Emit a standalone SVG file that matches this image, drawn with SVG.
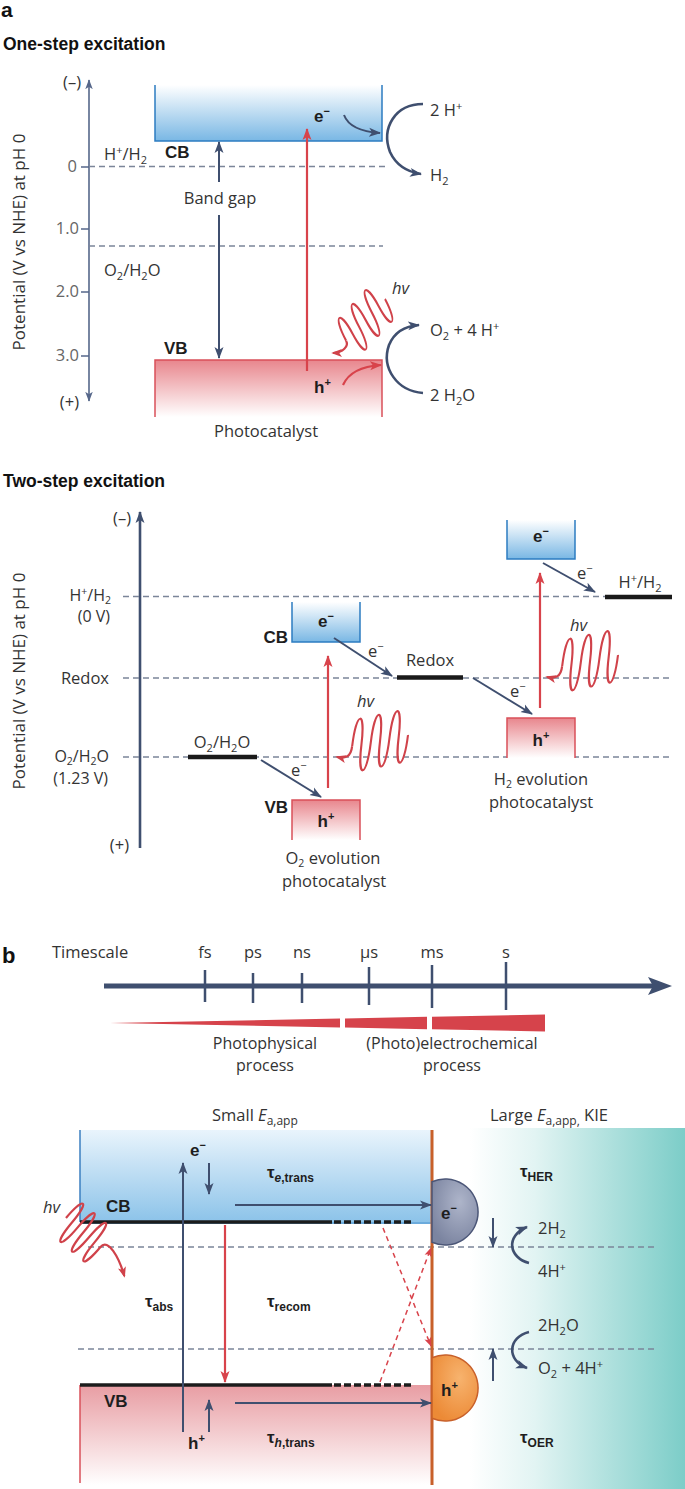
<svg xmlns="http://www.w3.org/2000/svg" width="685" height="1489" viewBox="0 0 685 1489">
<defs>
<style>
text{font-family:"Open Sans","Liberation Sans",sans-serif;font-size:16.5px;fill:#333}
text.bd{font-family:"Liberation Sans",Arial,sans-serif;font-weight:bold;font-size:17px;fill:#1e1e1e}
text.ttl{font-family:"Liberation Sans",Arial,sans-serif;font-weight:bold;font-size:17.5px;fill:#111}
text.tk{fill:#666}
text.sm{font-size:16px}
.it{font-style:italic}
.m{text-anchor:middle}
.e{text-anchor:end}
.dash{stroke:#7b8599;stroke-width:1.3;stroke-dasharray:6 4;fill:none}
.dk{stroke:#3f4f6f;stroke-width:2;fill:none}
.dk3{stroke:#3f4f6f;stroke-width:2.6;fill:none}
.rd{stroke:#d8434b;stroke-width:2.2;fill:none}
.wave{stroke:#d0424a;stroke-width:2.2;fill:none;stroke-linejoin:round}
.bar{stroke:#1a1a1a;stroke-width:4.5}
.cbs{stroke:#2d7cc1;stroke-width:1.5;fill:none}
.vbs{stroke:#d9505a;stroke-width:1.5;fill:none}
</style>
<linearGradient id="gCB" x1="0" y1="0" x2="0" y2="1"><stop offset="0" stop-color="#ffffff"/><stop offset="1" stop-color="#79b7e4"/></linearGradient>
<linearGradient id="gVB" x1="0" y1="0" x2="0" y2="1"><stop offset="0" stop-color="#e8868d"/><stop offset="1" stop-color="#ffffff"/></linearGradient>
<linearGradient id="gCB2" x1="0" y1="0" x2="0" y2="1"><stop offset="0" stop-color="#e9f4fc"/><stop offset="1" stop-color="#8cc3e9"/></linearGradient>
<linearGradient id="gVB2" x1="0" y1="0" x2="0" y2="1"><stop offset="0" stop-color="#e89da3"/><stop offset="1" stop-color="#ffffff"/></linearGradient>
<linearGradient id="gTeal" gradientUnits="userSpaceOnUse" x1="470" y1="0" x2="685" y2="0"><stop offset="0" stop-color="#ffffff"/><stop offset="0.3" stop-color="#e2f4f3"/><stop offset="1" stop-color="#7ccdc8"/></linearGradient>
<radialGradient id="gE" cx="0.6" cy="0.35" r="0.7"><stop offset="0" stop-color="#aeb5ca"/><stop offset="1" stop-color="#7b84a0"/></radialGradient>
<radialGradient id="gH" cx="0.6" cy="0.35" r="0.7"><stop offset="0" stop-color="#f7b36e"/><stop offset="1" stop-color="#ec8a36"/></radialGradient>
<marker id="mD" viewBox="0 0 12 10" refX="11" refY="5" markerWidth="12" markerHeight="10" markerUnits="userSpaceOnUse" orient="auto-start-reverse"><path d="M0,0.5L12,5L0,9.5L3,5z" fill="#3f4f6f"/></marker>
<marker id="mA" viewBox="0 0 12 10" refX="11" refY="5" markerWidth="10" markerHeight="9" markerUnits="userSpaceOnUse" orient="auto-start-reverse"><path d="M0,0.5L12,5L0,9.5L3,5z" fill="#56678a"/></marker>
<marker id="mR" viewBox="0 0 12 10" refX="11" refY="5" markerWidth="12" markerHeight="10" markerUnits="userSpaceOnUse" orient="auto"><path d="M0,0.5L12,5L0,9.5L3,5z" fill="#d8434b"/></marker>
<marker id="mW" viewBox="0 0 12 10" refX="10" refY="5" markerWidth="11" markerHeight="9" markerUnits="userSpaceOnUse" orient="auto"><path d="M0,0.5L12,5L0,9.5L3,5z" fill="#d0424a"/></marker>
<marker id="mRs" viewBox="0 0 10 8" refX="9.5" refY="4" markerWidth="9" markerHeight="8" markerUnits="userSpaceOnUse" orient="auto"><path d="M0,0L10,4L0,8L2.5,4z" fill="#d8434b"/></marker>
<marker id="mT" viewBox="0 0 24 18" refX="7" refY="9" markerWidth="24" markerHeight="18" markerUnits="userSpaceOnUse" orient="auto"><path d="M0,0L24,9L0,18L5,9z" fill="#3f4f6f"/></marker>
<path id="sq" d="M0,0C0,-36 9.5,-36 9.5,0C9.5,36 19,36 19,0C19,-36 28.5,-36 28.5,0C28.5,36 38,36 38,0C38,-36 47.5,-36 47.5,0C47.5,36 57,36 57,0"/>
</defs>
<rect width="685" height="1489" fill="#ffffff"/>

<!-- ===== Part a: one-step ===== -->
<g id="title-a">
<text class="ttl" x="1" y="17" style="font-size:21px">a</text>
<text class="ttl" x="3" y="50">One-step excitation</text>
</g>
<g id="axis-one-step">
<line x1="89" y1="80" x2="89" y2="401" stroke="#56678a" stroke-width="1.6" marker-start="url(#mA)" marker-end="url(#mA)"/>
<path d="M81,167H89M81,229H89M81,292H89M81,356H89" stroke="#56678a" stroke-width="1.3"/>
<text class="e" x="81" y="88">(–)</text>
<text class="e" x="79" y="408">(+)</text>
<text class="tk e" x="77" y="172">0</text>
<text class="tk e" x="79" y="234">1.0</text>
<text class="tk e" x="79" y="297">2.0</text>
<text class="tk e" x="79" y="361">3.0</text>
<text class="m" transform="translate(25,242) rotate(-90)" style="font-size:17px">Potential (V vs NHE) at pH 0</text>
</g>
<g id="levels-one-step">
<line class="dash" x1="89" y1="166.5" x2="385" y2="166.5"/>
<line class="dash" x1="89" y1="246" x2="383" y2="246"/>
<text x="104" y="160">H<tspan font-size="11" dy="-6">+</tspan><tspan dy="6">/H</tspan><tspan font-size="11" dy="4">2</tspan></text>
<text x="104" y="276">O<tspan font-size="11" dy="4">2</tspan><tspan dy="-4">/H</tspan><tspan font-size="11" dy="4">2</tspan><tspan dy="-4">O</tspan></text>
</g>
<g id="cb-one-step">
<rect x="155" y="85" width="227" height="56" fill="url(#gCB)"/>
<path class="cbs" d="M155,85V141H382V85"/>
<text class="bd" x="165" y="158">CB</text>
<text class="bd" x="314" y="122">e<tspan font-size="11" dy="-7">−</tspan></text>
</g>
<g id="vb-one-step">
<rect x="155" y="360" width="227" height="57" fill="url(#gVB)"/>
<path class="vbs" d="M155,417V360H382V417"/>
<text class="bd" x="164" y="354">VB</text>
<text class="bd" x="314" y="393">h<tspan font-size="11" dy="-7">+</tspan></text>
<text class="m" x="266" y="437">Photocatalyst</text>
</g>
<g id="bandgap-label">
<text class="m" x="220" y="204">Band gap</text>
</g>
<g id="reactions-one-step">
<text x="430" y="116">2 H<tspan font-size="11" dy="-6">+</tspan></text>
<text x="430" y="181">H<tspan font-size="11" dy="4">2</tspan></text>
<text x="430" y="336">O<tspan font-size="11" dy="4">2</tspan><tspan dy="-4"> + 4 H</tspan><tspan font-size="11" dy="-6">+</tspan></text>
<text x="430" y="401">2 H<tspan font-size="11" dy="4">2</tspan><tspan dy="-4">O</tspan></text>
<text class="it" x="392" y="294">hv</text>
</g>

<!-- ===== Part a: two-step ===== -->
<g id="title-two-step">
<text class="ttl" x="3" y="487">Two-step excitation</text>
</g>
<g id="axis-two-step">
<line x1="140" y1="848" x2="140" y2="512" stroke="#3f4f6f" stroke-width="2.6" marker-end="url(#mD)"/>
<text class="e" x="131" y="524">(–)</text>
<text class="e" x="129" y="851">(+)</text>
<text class="m" transform="translate(25,681) rotate(-90)" style="font-size:17px">Potential (V vs NHE) at pH 0</text>
</g>
<g id="levels-two-step">
<line class="dash" x1="123" y1="596.5" x2="672" y2="596.5"/>
<line class="dash" x1="123" y1="678" x2="672" y2="678"/>
<line class="dash" x1="123" y1="757" x2="672" y2="757"/>
<text class="e sm" x="111" y="601">H<tspan font-size="10.5" dy="-6">+</tspan><tspan dy="6">/H</tspan><tspan font-size="10.5" dy="3">2</tspan></text>
<text class="e sm" x="110" y="622">(0 V)</text>
<text class="e" x="109" y="684">Redox</text>
<text class="e sm" x="109" y="762">O<tspan font-size="10.5" dy="3">2</tspan><tspan dy="-3">/H</tspan><tspan font-size="10.5" dy="3">2</tspan><tspan dy="-3">O</tspan></text>
<text class="e sm" x="108" y="784">(1.23 V)</text>
</g>
<g id="bar-o2">
<line class="bar" x1="188" y1="757" x2="257" y2="757"/>
<text class="m" x="222" y="748">O<tspan font-size="11" dy="4">2</tspan><tspan dy="-4">/H</tspan><tspan font-size="11" dy="4">2</tspan><tspan dy="-4">O</tspan></text>
</g>
<g id="bar-redox">
<line class="bar" x1="397" y1="677.5" x2="463" y2="677.5"/>
<text class="m" x="430" y="666">Redox</text>
</g>
<g id="bar-h2">
<line class="bar" x1="605" y1="597" x2="672" y2="597"/>
<text class="m" x="640" y="588">H<tspan font-size="11" dy="-6">+</tspan><tspan dy="6">/H</tspan><tspan font-size="11" dy="4">2</tspan></text>
</g>
<g id="o2-cb">
<rect x="292" y="602" width="68" height="40" fill="url(#gCB)"/>
<path class="cbs" d="M292,602V642H360V602"/>
<text class="bd e" x="288" y="643">CB</text>
<text class="bd m" x="326" y="627">e<tspan font-size="11" dy="-7">−</tspan></text>
</g>
<g id="o2-vb">
<rect x="292" y="800" width="68" height="40" fill="url(#gVB)"/>
<path class="vbs" d="M292,840V800H360V840"/>
<text class="bd e" x="288" y="813">VB</text>
<text class="bd m" x="326" y="827">h<tspan font-size="11" dy="-7">+</tspan></text>
<text class="m" x="333" y="864">O<tspan font-size="10.5" dy="3">2</tspan><tspan dy="-3"> evolution</tspan></text>
<text class="m" x="334" y="887">photocatalyst</text>
</g>
<g id="h2-cb">
<rect x="507" y="520" width="68" height="39" fill="url(#gCB)"/>
<path class="cbs" d="M507,520V559H575V520"/>
<text class="bd m" x="541" y="542">e<tspan font-size="11" dy="-7">−</tspan></text>
</g>
<g id="h2-vb">
<rect x="507" y="718" width="68" height="40" fill="url(#gVB)"/>
<path class="vbs" d="M507,758V718H575V758"/>
<text class="bd m" x="541" y="746">h<tspan font-size="11" dy="-7">+</tspan></text>
<text class="m" x="541" y="785">H<tspan font-size="10.5" dy="3">2</tspan><tspan dy="-3"> evolution</tspan></text>
<text class="m" x="541" y="808">photocatalyst</text>
</g>
<g id="labels-two-step">
<text x="291" y="776">e<tspan font-size="11" dy="-7">−</tspan></text>
<text x="368" y="657">e<tspan font-size="11" dy="-7">−</tspan></text>
<text x="510" y="697">e<tspan font-size="11" dy="-7">−</tspan></text>
<text x="577" y="579">e<tspan font-size="11" dy="-7">−</tspan></text>
<text class="it" x="357" y="707">hv</text>
<text class="it" x="570" y="631">hv</text>
</g>

<!-- ===== Part b ===== -->
<g id="timescale">
<text class="ttl" x="2" y="963" style="font-size:22px">b</text>
<text x="52" y="958">Timescale</text>
<text class="m" x="205" y="958">fs</text>
<text class="m" x="253" y="958">ps</text>
<text class="m" x="302" y="958">ns</text>
<text class="m" x="369" y="958">μs</text>
<text class="m" x="432" y="958">ms</text>
<text class="m" x="506" y="958">s</text>
<line x1="104" y1="986" x2="655" y2="986" stroke="#3f4f6f" stroke-width="5" marker-end="url(#mT)"/>
<path d="M205,970V1002M253,973V1003M302,973V1003M369,967V1005M432,965V1008M506,962V1010" stroke="#3f4f6f" stroke-width="2.5"/>
<polygon points="110,1023 340,1018.5 340,1027.5" fill="#d6434b"/>
<polygon points="345,1018.4 427,1016.8 427,1029.2 345,1027.6" fill="#d6434b"/>
<polygon points="432,1016.7 545,1014.5 545,1031.5 432,1029.3" fill="#d6434b"/>
<text class="m sm" x="265" y="1049">Photophysical</text>
<text class="m sm" x="265" y="1071">process</text>
<text class="m sm" x="452" y="1049">(Photo)electrochemical</text>
<text class="m sm" x="452" y="1071">process</text>
</g>
<g id="electrolyte">
<rect x="432" y="1128" width="253" height="361" fill="url(#gTeal)"/>
<text x="490" y="1121">Large <tspan class="it">E</tspan><tspan font-size="12" dy="4">a,app,</tspan><tspan dy="-4"> KIE</tspan></text>
</g>
<g id="semiconductor">
<rect x="80" y="1130" width="352" height="92" fill="url(#gCB2)"/>
<line x1="80" y1="1130" x2="80" y2="1222" stroke="#3b7fc0" stroke-width="1.5"/>
<line x1="80" y1="1223" x2="432" y2="1223" stroke="#3b8fd0" stroke-width="1.5"/>
<rect x="80" y="1385" width="352" height="100" fill="url(#gVB2)"/>
<line x1="80" y1="1385" x2="80" y2="1483" stroke="#d9505a" stroke-width="1.5"/>
<line x1="80" y1="1222" x2="332" y2="1222" stroke="#1c1c1c" stroke-width="3.5"/>
<line x1="334" y1="1222" x2="414" y2="1222" stroke="#1c1c1c" stroke-width="3.5" stroke-dasharray="7 3"/>
<line x1="80" y1="1385" x2="332" y2="1385" stroke="#1c1c1c" stroke-width="3.5"/>
<line x1="334" y1="1385" x2="411" y2="1385" stroke="#1c1c1c" stroke-width="3.5" stroke-dasharray="7 3"/>
<text x="212" y="1121">Small <tspan class="it">E</tspan><tspan font-size="12" dy="4">a,app</tspan></text>
<text class="bd" x="106" y="1212">CB</text>
<text class="bd" x="104" y="1407">VB</text>
<text class="bd" x="190" y="1156">e<tspan font-size="11" dy="-7">−</tspan></text>
<text class="bd" x="188" y="1449">h<tspan font-size="11" dy="-7">+</tspan></text>
<text class="it" x="43" y="1213">hv</text>
</g>
<g id="potential-lines-b">
<line class="dash" x1="88" y1="1247" x2="655" y2="1247"/>
<line class="dash" x1="78" y1="1349" x2="655" y2="1349"/>
</g>
<g id="interface">
<line x1="432" y1="1130" x2="432" y2="1485" stroke="#c8602a" stroke-width="3"/>
</g>
<g id="electron-site">
<path d="M432,1181.7A33,33 0 1 1 432,1242.3Z" fill="url(#gE)" stroke="#4b5677" stroke-width="1.5"/>
<text class="bd" x="441" y="1219">e<tspan font-size="11" dy="-7">−</tspan></text>
</g>
<g id="hole-site">
<path d="M432,1357.7A33,33 0 1 1 432,1418.3Z" fill="url(#gH)" stroke="#c8602a" stroke-width="1.5"/>
<text class="bd" x="441" y="1396">h<tspan font-size="11" dy="-7">+</tspan></text>
</g>
<g id="time-constants">
<text class="bd" x="267" y="1178">τ<tspan font-size="12" dy="4"><tspan class="it">e</tspan>,trans</tspan></text>
<text class="bd" x="145" y="1307">τ<tspan font-size="12" dy="4">abs</tspan></text>
<text class="bd" x="267" y="1307">τ<tspan font-size="12" dy="4">recom</tspan></text>
<text class="bd" x="267" y="1443">τ<tspan font-size="12" dy="4"><tspan class="it">h</tspan>,trans</tspan></text>
<text class="bd" x="520" y="1177">τ<tspan font-size="12" dy="4">HER</tspan></text>
<text class="bd" x="520" y="1443">τ<tspan font-size="12" dy="4">OER</tspan></text>
</g>
<g id="reactions-b">
<text x="538" y="1234">2H<tspan font-size="11" dy="4">2</tspan></text>
<text x="538" y="1277">4H<tspan font-size="11" dy="-6">+</tspan></text>
<text x="538" y="1331">2H<tspan font-size="11" dy="4">2</tspan><tspan dy="-4">O</tspan></text>
<text x="538" y="1374">O<tspan font-size="11" dy="4">2</tspan><tspan dy="-4"> + 4H</tspan><tspan font-size="11" dy="-6">+</tspan></text>
</g>

<!-- ===== Connectors ===== -->
<g id="connectors">
<!-- one-step -->
<line class="dk" x1="219" y1="182" x2="219" y2="142" marker-end="url(#mD)"/>
<line class="dk" x1="219" y1="215" x2="219" y2="358" marker-end="url(#mD)"/>
<line class="rd" x1="307" y1="371" x2="307" y2="129" marker-end="url(#mR)"/>
<path class="dk" d="M344,115Q350,131 380,133" marker-end="url(#mD)"/>
<path class="rd" d="M343,385Q351,367 381,365" marker-end="url(#mR)"/>
<path class="dk3" d="M423,104C395,104 381,128 390,152C396,165 408,172 421,174" marker-end="url(#mD)"/>
<path class="dk3" d="M423,393C397,391 381,368 389,345C394,333 405,326 419,325" marker-end="url(#mD)"/>
<use href="#sq" class="wave" vector-effect="non-scaling-stroke" transform="matrix(-0.682,0.731,-0.375,-0.706,385,299)"/>
<path class="wave" d="M346.1,340.7C349,346 343,353 333,353" marker-end="url(#mW)"/>
<!-- two-step -->
<line class="dk" x1="261" y1="760" x2="321" y2="797" marker-end="url(#mD)"/>
<line class="dk" x1="334" y1="638" x2="392" y2="676" marker-end="url(#mD)"/>
<line class="dk" x1="473" y1="678" x2="532" y2="714" marker-end="url(#mD)"/>
<line class="dk" x1="543" y1="563" x2="595" y2="592" marker-end="url(#mD)"/>
<line class="rd" x1="328" y1="788" x2="328" y2="656" marker-end="url(#mR)"/>
<line class="rd" x1="540" y1="708" x2="540" y2="573" marker-end="url(#mR)"/>
<use href="#sq" class="wave" vector-effect="non-scaling-stroke" transform="matrix(-0.98,0.2,0.12,-0.99,408,735)"/>
<path class="wave" d="M352.1,746.4C351,757 345,759 337,757" marker-end="url(#mW)"/>
<use href="#sq" class="wave" vector-effect="non-scaling-stroke" transform="matrix(-0.98,0.2,0.12,-0.99,618,655)"/>
<path class="wave" d="M562.1,666.4C561,677 555,679 547,677" marker-end="url(#mW)"/>
<!-- part b -->
<line class="dk" x1="183" y1="1432" x2="183" y2="1163" marker-end="url(#mD)"/>
<line class="dk" x1="209" y1="1163" x2="209" y2="1194" marker-end="url(#mD)"/>
<line class="dk" x1="209" y1="1432" x2="209" y2="1400" marker-end="url(#mD)"/>
<line class="dk" x1="235" y1="1205" x2="431" y2="1205" marker-end="url(#mD)"/>
<line class="dk" x1="235" y1="1403" x2="431" y2="1403" marker-end="url(#mD)"/>
<line class="rd" x1="225" y1="1225" x2="225" y2="1382" marker-end="url(#mR)"/>
<line x1="383" y1="1228" x2="431" y2="1346" stroke="#d8434b" stroke-width="1.5" stroke-dasharray="5 4" marker-end="url(#mRs)"/>
<line x1="380" y1="1382" x2="431" y2="1248" stroke="#d8434b" stroke-width="1.5" stroke-dasharray="5 4" marker-end="url(#mRs)"/>
<line class="dk" x1="493" y1="1218" x2="493" y2="1247" marker-end="url(#mD)"/>
<line class="dk" x1="493" y1="1381" x2="493" y2="1349" marker-end="url(#mD)"/>
<path class="dk3" d="M529,1263C509,1258 505,1236 527,1227" marker-end="url(#mD)"/>
<path class="dk3" d="M529,1332C508,1337 506,1360 527,1368" marker-end="url(#mD)"/>
<path class="wave" transform="translate(66,1218) rotate(40)" d="M0,0C0,-29 7.5,-29 7.5,0C7.5,29 15,29 15,0C15,-29 22.5,-29 22.5,0C22.5,29 30,29 30,0C30,-29 37.5,-29 37.5,0C37.5,29 45,29 45,0C45,-12 66,-4 82,7" marker-end="url(#mW)"/>
</g>
</svg>
